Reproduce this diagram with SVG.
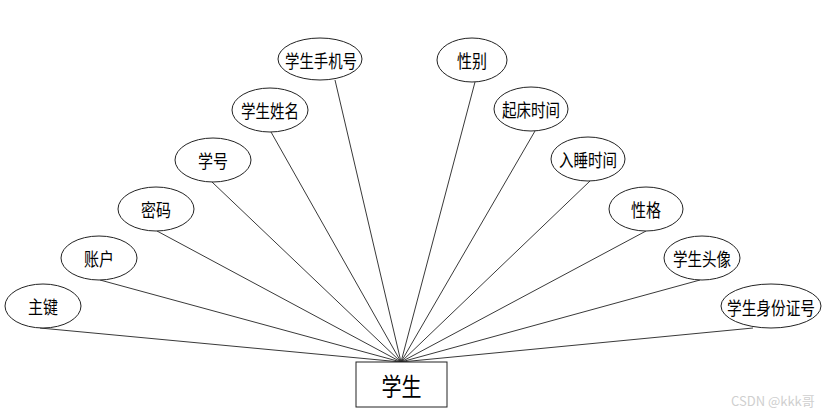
<svg xmlns="http://www.w3.org/2000/svg" width="834" height="417" viewBox="0 0 834 417">
<style>
.e{fill:#fff;stroke:#222;stroke-width:1}
.t{font-family:"Noto Sans CJK SC","Noto Sans",sans-serif;font-size:18px;fill:#000;text-anchor:middle;dominant-baseline:central}
.c line{stroke:#222;stroke-width:0.9}
</style>
<rect width="834" height="417" fill="#fff"/>
<g class="c" id="connectors">
<line x1="40" y1="328" x2="401" y2="362"/>
<line x1="100" y1="280" x2="401" y2="362"/>
<line x1="157" y1="231" x2="401" y2="362"/>
<line x1="212" y1="182" x2="401" y2="362"/>
<line x1="271" y1="132" x2="401" y2="362"/>
<line x1="335" y1="80" x2="401" y2="362"/>
<line x1="475" y1="82" x2="401" y2="362"/>
<line x1="535" y1="131" x2="401" y2="362"/>
<line x1="590" y1="181" x2="401" y2="362"/>
<line x1="646" y1="231" x2="401" y2="362"/>
<line x1="700" y1="280" x2="401" y2="362"/>
<line x1="753" y1="328" x2="401" y2="362"/>
</g>
<g id="n-zhujian"><ellipse class="e" cx="43" cy="306" rx="38" ry="22"/><text class="t" x="43" y="306" textLength="30" lengthAdjust="spacingAndGlyphs">主键</text></g>
<g id="n-zhanghu"><ellipse class="e" cx="99" cy="258" rx="38" ry="22"/><text class="t" x="99" y="258" textLength="30" lengthAdjust="spacingAndGlyphs">账户</text></g>
<g id="n-mima"><ellipse class="e" cx="156" cy="209" rx="38" ry="22"/><text class="t" x="156" y="209" textLength="30" lengthAdjust="spacingAndGlyphs">密码</text></g>
<g id="n-xuehao"><ellipse class="e" cx="213" cy="160" rx="38" ry="22"/><text class="t" x="213" y="160" textLength="30" lengthAdjust="spacingAndGlyphs">学号</text></g>
<g id="n-xingming"><ellipse class="e" cx="270" cy="110" rx="38" ry="22"/><text class="t" x="270" y="110" textLength="58" lengthAdjust="spacingAndGlyphs">学生姓名</text></g>
<g id="n-shouji"><ellipse class="e" cx="320" cy="59" rx="42" ry="21"/><text class="t" x="321" y="60" textLength="72" lengthAdjust="spacingAndGlyphs">学生手机号</text></g>
<g id="n-xingbie"><ellipse class="e" cx="472" cy="60" rx="35" ry="22"/><text class="t" x="472" y="60" textLength="30" lengthAdjust="spacingAndGlyphs">性别</text></g>
<g id="n-qichuang"><ellipse class="e" cx="531" cy="109" rx="37" ry="22"/><text class="t" x="531" y="109" textLength="58" lengthAdjust="spacingAndGlyphs">起床时间</text></g>
<g id="n-rushui"><ellipse class="e" cx="588" cy="159" rx="37" ry="22"/><text class="t" x="588" y="159" textLength="58" lengthAdjust="spacingAndGlyphs">入睡时间</text></g>
<g id="n-xingge"><ellipse class="e" cx="646" cy="209" rx="37" ry="22"/><text class="t" x="646" y="209" textLength="30" lengthAdjust="spacingAndGlyphs">性格</text></g>
<g id="n-touxiang"><ellipse class="e" cx="702" cy="258" rx="38" ry="22"/><text class="t" x="702" y="258" textLength="58" lengthAdjust="spacingAndGlyphs">学生头像</text></g>
<g id="n-shenfen"><ellipse class="e" cx="771" cy="306" rx="50" ry="22"/><text class="t" x="771" y="307" textLength="88" lengthAdjust="spacingAndGlyphs">学生身份证号</text></g>
<g id="n-xuesheng"><rect x="356" y="362" width="91" height="45" fill="#fff" stroke="#222" stroke-width="1"/><text class="t" x="401.5" y="385" style="font-size:25px" textLength="40" lengthAdjust="spacingAndGlyphs">学生</text></g>
<text x="731" y="406" style="font-family:'Noto Sans CJK SC','Noto Sans',sans-serif;font-size:13px;fill:#cfcfcf">CSDN @kkk哥</text>
</svg>
